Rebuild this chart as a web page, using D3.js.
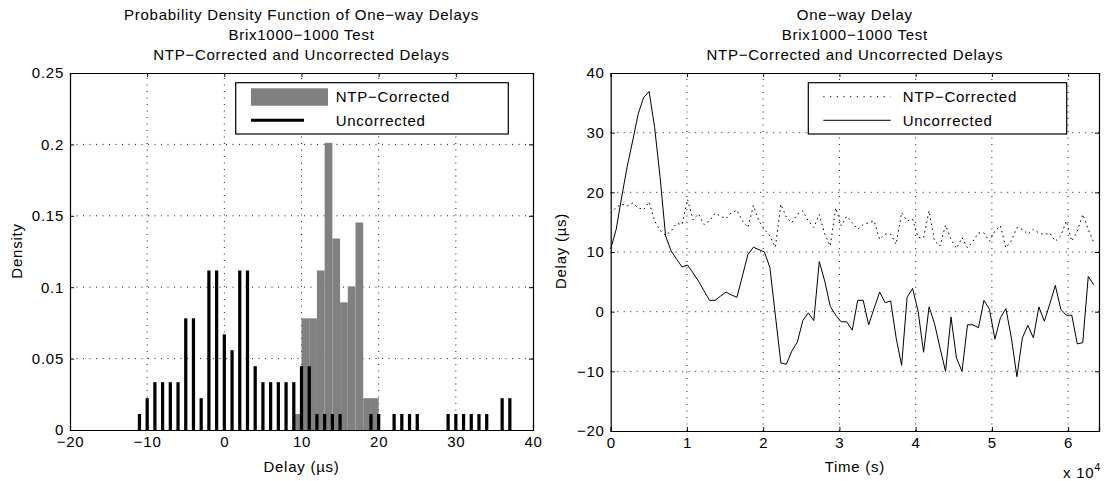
<!DOCTYPE html>
<html><head><meta charset="utf-8">
<script src="https://cdn.jsdelivr.net/npm/d3@7"></script>
<style>
body{margin:0;background:#fff;}
svg{display:block;}
text{font-family:"Liberation Sans",Arial,Helvetica,sans-serif;font-size:15px;letter-spacing:0.75px;fill:#000;}
</style></head><body>
<svg id="c" width="1107" height="481"></svg>
<script>
// ---------- data ----------
const leftTitle = ["Probability Density Function of One\u2212way Delays", "Brix1000\u22121000 Test", "NTP\u2212Corrected and Uncorrected Delays"];
const rightTitle = ["One\u2212way Delay", "Brix1000\u22121000 Test", "NTP\u2212Corrected and Uncorrected Delays"];
const seriesNames = ["NTP\u2212Corrected", "Uncorrected"];

// histogram (left)
const uncorrectedBinCenters = [-11,-10,-9,-8,-7,-6,-5,-4,-3,-2,-1,0,1,2,3,4,5,6,7,8,9,10,11,12,13,14,15,16,17,18,19,20,21,22,23,24,25,26,27,28,29,30,31,32,33,34,35,36,37];
const uncorrectedDensity = [0.0112,0.0223,0.0335,0.0335,0.0335,0.0335,0.0782,0.0782,0.0223,0.1117,0.1117,0.0670,0.0559,0.1117,0.1117,0.0447,0.0335,0.0335,0.0335,0.0335,0.0335,0.0447,0.0447,0.0112,0.0112,0.0112,0.0112,0,0,0,0.0112,0.0112,0,0.0112,0.0112,0.0112,0.0112,0,0,0,0.0112,0.0112,0.0112,0.0112,0.0112,0.0112,0,0.0223,0.0223];
const ntpBinLeftEdges = [9,10,11,12,13,14,15,16,17,18,19];
const ntpDensity = [0.0112,0.0782,0.0782,0.1117,0.2011,0.1341,0.0894,0.1006,0.1453,0.0223,0.0223];
const leftXTicks = [-20,-10,0,10,20,30,40];
const leftYTicks = [0,0.05,0.1,0.15,0.2,0.25];
const leftYTickLabels = ["0","0.05","0.1","0.15","0.2","0.25"];

// time series (right)
const times = [0,720,1440,2160,2880,3600,4320,5040,5760,6480,7200,7920,8640,9360,10080,10800,11520,12240,12960,13680,14400,15120,15840,16560,17280,18000,18720,19440,20160,20880,21600,22320,23040,23760,24480,25200,25920,26640,27360,28080,28800,29520,30240,30960,31680,32400,33120,33840,34560,35280,36000,36720,37440,38160,38880,39600,40320,41040,41760,42480,43200,43920,44640,45360,46080,46800,47520,48240,48960,49680,50400,51120,51840,52560,53280,54000,54720,55440,56160,56880,57600,58320,59040,59760,60480,61200,61920,62640,63360];
const ntpDelay = [16.5,17.5,18.0,17.7,18.2,17.4,17.1,18.4,15.2,13.6,12.8,13.5,14.8,14.6,18.8,15.4,16.4,14.6,15.2,16.5,16.0,15.6,16.6,17.0,15.2,14.1,17.8,15.2,13.8,12.7,10.8,18.0,15.8,14.9,16.3,16.9,15.2,14.1,16.3,13.0,11.0,17.4,14.4,16.0,14.9,13.8,14.6,14.9,15.2,12.1,13.0,13.0,11.3,16.6,15.2,15.5,12.4,12.4,16.9,11.8,11.0,14.5,12.1,10.6,12.4,10.7,11.8,13.2,13.2,11.8,13.5,14.4,10.7,11.9,14.1,13.8,13.0,13.8,13.2,12.9,13.2,11.8,12.7,15.2,11.8,13.5,16.3,13.8,11.6];
const uncorrectedDelay = [10.5,13.8,19.2,24.3,28.6,33.1,35.9,36.9,30.9,22.5,12.7,10.2,8.8,7.5,7.8,6.5,5.1,3.5,1.9,1.9,2.6,3.3,2.8,2.4,6.0,9.6,10.8,10.4,10.0,7.4,-0.6,-8.6,-8.8,-6.6,-5.1,-1.5,-0.2,-1.5,8.4,5.1,0.9,-0.6,-1.7,-1.7,-3.1,1.9,1.9,-2.2,0.6,3.3,1.5,1.8,-4.4,-9.0,2.4,3.9,0.1,-6.8,0.8,-2.0,-6.1,-10.0,-0.9,-7.8,-10.0,-2.2,-2.2,-2.7,1.9,0.4,-4.6,-1.0,0.5,-4.4,-10.9,-4.4,-2.3,-4.4,0.8,-1.6,1.3,4.4,0.4,-0.6,-0.6,-5.4,-5.2,5.9,4.5];
const rightXTicks = [0,10000,20000,30000,40000,50000,60000];
const rightXTickLabels = ["0","1","2","3","4","5","6"];
const rightYTicks = [-20,-10,0,10,20,30,40];
const timeMax = 64050;

// ---------- drawing ----------
const svg = d3.select("#c");
svg.append("rect").attr("width",1107).attr("height",481).attr("fill","#fff");

function frame(g, x, y, gridX, gridY) {
  const [x0,x1] = x.range(), [y0,y1] = y.range();
  const grid = g.append("g").attr("stroke","#000").attr("stroke-width",0.9).attr("stroke-dasharray","1,5.5");
  gridX.forEach(v => grid.append("line").attr("x1",x(v)).attr("x2",x(v)).attr("y1",y0).attr("y2",y1));
  gridY.forEach(v => grid.append("line").attr("x1",x0).attr("x2",x1).attr("y1",y(v)).attr("y2",y(v)));
}
function axes(g, x, y, xt, yt, xfmt, yfmt) {
  const [x0,x1] = x.range(), [y0,y1] = y.range();
  const b = g.append("g").attr("transform",`translate(0,${y0})`)
    .call(d3.axisBottom(x).tickValues(xt).tickFormat(xfmt).tickSize(-4).tickPadding(6.5));
  const t = g.append("g").attr("transform",`translate(0,${y1})`)
    .call(d3.axisTop(x).tickValues(xt).tickFormat("").tickSize(-4));
  const l = g.append("g").attr("transform",`translate(${x0},0)`)
    .call(d3.axisLeft(y).tickValues(yt).tickFormat(yfmt).tickSize(-4).tickPadding(6));
  const r = g.append("g").attr("transform",`translate(${x1},0)`)
    .call(d3.axisRight(y).tickValues(yt).tickFormat("").tickSize(-4));
  [b,t,l,r].forEach(a => {
    a.select(".domain").attr("stroke","#000").attr("stroke-width",1.2);
    a.selectAll(".tick line").attr("stroke","#000").attr("stroke-width",1);
    a.selectAll("text").attr("font-size",null).attr("font-family",null).style("font-size","15px");
  });
}

// ----- left plot -----
const xL = d3.scaleLinear().domain([-20,40]).range([70,533]);
const yL = d3.scaleLinear().domain([0,0.25]).range([430,73]);
const gL = svg.append("g");
frame(gL, xL, yL, leftXTicks.slice(1,-1), leftYTicks.slice(1,-1));
gL.append("g").selectAll("rect").data(ntpBinLeftEdges).join("rect")
  .attr("x", d=>xL(d)).attr("width", d=>xL(d+1)-xL(d))
  .attr("y", (d,i)=>yL(ntpDensity[i])).attr("height",(d,i)=>yL(0)-yL(ntpDensity[i]))
  .attr("fill","#808080");
const bw = xL(0.42)-xL(0);
gL.append("g").selectAll("rect").data(uncorrectedBinCenters).join("rect")
  .attr("x", d=>xL(d)-bw/2).attr("width", bw)
  .attr("y", (d,i)=>yL(uncorrectedDensity[i])).attr("height",(d,i)=>yL(0)-yL(uncorrectedDensity[i]))
  .attr("fill","#000");
axes(gL, xL, yL, leftXTicks, leftYTicks, d3.format("~g"), (d,i)=>leftYTickLabels[i]);

// ----- right plot -----
const xR = d3.scaleLinear().domain([0,timeMax]).range([610.7,1099]);
const yR = d3.scaleLinear().domain([-20,40]).range([431,73]);
const gR = svg.append("g");
frame(gR, xR, yR, rightXTicks.slice(1), rightYTicks.slice(1,-1));
const line = d3.line().x((d,i)=>xR(times[i])).y(d=>yR(d));
gR.append("path").datum(ntpDelay).attr("d",line).attr("fill","none").attr("stroke","#000")
  .attr("stroke-width",1).attr("stroke-dasharray","1.6,3.4");
gR.append("path").datum(uncorrectedDelay).attr("d",line).attr("fill","none").attr("stroke","#000")
  .attr("stroke-width",1);
axes(gR, xR, yR, rightXTicks, rightYTicks, (d,i)=>rightXTickLabels[i], d3.format("~g"));
const ex = svg.append("text").attr("x",1063).attr("y",478);
ex.append("tspan").text("x 10");
ex.append("tspan").attr("dy",-7).style("font-size","11px").text("4");

// titles
leftTitle.forEach((s,i)=>svg.append("text").attr("x",(70+533)/2).attr("y",19.5+i*20.3).attr("text-anchor","middle").text(s));
rightTitle.forEach((s,i)=>svg.append("text").attr("x",(610.7+1099)/2).attr("y",19.5+i*20.3).attr("text-anchor","middle").text(s));

// axis labels
svg.append("text").attr("x",(70+533)/2).attr("y",472).attr("text-anchor","middle").text("Delay (\u00b5s)");
svg.append("text").attr("x",(610.7+1099)/2).attr("y",472).attr("text-anchor","middle").text("Time (s)");
svg.append("text").attr("transform","translate(22,251) rotate(-90)").attr("text-anchor","middle").text("Density");
svg.append("text").attr("transform","translate(566,251) rotate(-90)").attr("text-anchor","middle").text("Delay (\u00b5s)");

// legends
function legend(x0, x1) {
  const g = svg.append("g");
  g.append("rect").attr("x",x0).attr("y",82.7).attr("width",x1-x0).attr("height",51.3)
    .attr("fill","#fff").attr("stroke","#000").attr("stroke-width",1.2);
  return g;
}
const lg = legend(235.7, 508.3);
lg.append("rect").attr("x",251).attr("y",88.3).attr("width",77).attr("height",17.4).attr("fill","#808080");
lg.append("line").attr("x1",251).attr("x2",304).attr("y1",120.3).attr("y2",120.3).attr("stroke","#000").attr("stroke-width",3);
lg.append("text").attr("x",335.7).attr("y",102).text(seriesNames[0]);
lg.append("text").attr("x",335.7).attr("y",126).text(seriesNames[1]);

const rg = legend(808.3, 1066.7);
rg.append("line").attr("x1",823.3).attr("x2",890.7).attr("y1",96.7).attr("y2",96.7).attr("stroke","#000").attr("stroke-width",1).attr("stroke-dasharray","1.2,5.5");
rg.append("line").attr("x1",823.3).attr("x2",890.7).attr("y1",120.3).attr("y2",120.3).attr("stroke","#000").attr("stroke-width",1);
rg.append("text").attr("x",902.7).attr("y",102).text(seriesNames[0]);
rg.append("text").attr("x",902.7).attr("y",126).text(seriesNames[1]);
</script>
</body></html>
